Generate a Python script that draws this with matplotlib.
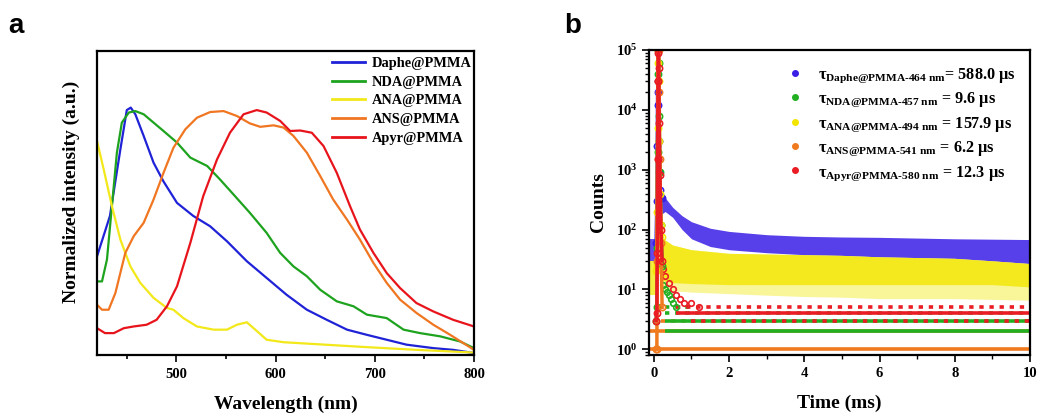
import numpy as np
import matplotlib.pyplot as plt

plt.rcParams['font.family'] = ['Liberation Serif', 'DejaVu Serif']
plt.rcParams['font.weight'] = 'bold'
plt.rcParams['mathtext.fontset'] = 'custom'
plt.rcParams['mathtext.rm'] = 'Liberation Serif:bold'
plt.rcParams['mathtext.it'] = 'Liberation Serif:bold'
plt.rcParams['mathtext.bf'] = 'Liberation Serif:bold'

# ---- panel a: normalized PL spectra ----
daphe_wl = [420, 433, 443.5, 450, 454, 458.6, 467, 477, 487, 500.6, 517, 534, 551, 571,
            591, 611, 631.5, 651.6, 672, 692, 712, 732, 759, 779, 800]
daphe_int = [0.396, 0.56, 0.83, 0.99, 1.0, 0.973, 0.885, 0.776, 0.70, 0.613, 0.56, 0.518,
             0.457, 0.376, 0.308, 0.24, 0.179, 0.138, 0.098, 0.077, 0.057, 0.037, 0.023, 0.016, 0.003]
nda_wl = [420, 425, 430, 435, 440, 445, 452, 458.6, 467, 477, 487, 500.6, 514, 531, 544,
          557.6, 574, 591, 604.6, 618, 631.5, 645, 661.7, 678.5, 692, 712, 729, 745.6, 765.8, 786, 800]
nda_int = [0.294, 0.294, 0.383, 0.60, 0.817, 0.939, 0.98, 0.986, 0.973, 0.939, 0.905, 0.858,
           0.797, 0.763, 0.708, 0.647, 0.573, 0.491, 0.41, 0.355, 0.315, 0.26, 0.213, 0.193,
           0.159, 0.145, 0.098, 0.084, 0.071, 0.05, 0.023]
ana_wl = [420, 426.7, 435, 443.5, 453.6, 463.6, 477, 490.5, 497, 507, 520.7, 537.5, 551,
          561, 571, 579.5, 591, 608, 641.6, 692, 742, 800]
ana_int = [0.864, 0.749, 0.60, 0.464, 0.355, 0.288, 0.227, 0.186, 0.179, 0.145, 0.111, 0.098,
           0.098, 0.118, 0.128, 0.098, 0.057, 0.047, 0.039, 0.027, 0.016, 0.005]
ans_wl = [420, 425, 431.7, 438.5, 448.5, 457, 467, 477, 487, 497, 509, 520.7, 534, 547.6,
          561, 574, 584.5, 598, 608, 618, 631.5, 645, 658, 672, 685, 698.6, 712, 725.5, 742,
          759, 776, 800]
ans_int = [0.199, 0.179, 0.179, 0.247, 0.41, 0.478, 0.532, 0.627, 0.735, 0.837, 0.912, 0.959,
           0.982, 0.986, 0.966, 0.936, 0.922, 0.928, 0.919, 0.885, 0.817, 0.722, 0.627, 0.545,
           0.464, 0.369, 0.288, 0.22, 0.166, 0.118, 0.077, 0.016]
apyr_wl = [420, 428, 437, 447, 457, 470, 480, 490.5, 500.6, 514, 527, 541, 554, 567.7, 581,
           591, 604.6, 614.7, 624.8, 636.5, 648.3, 661.7, 675, 685, 698.6, 712, 725.5, 742,
           759, 779, 800]
apyr_int = [0.104, 0.084, 0.084, 0.104, 0.111, 0.118, 0.138, 0.193, 0.274, 0.45, 0.64, 0.79,
            0.898, 0.973, 0.99, 0.98, 0.946, 0.905, 0.907, 0.898, 0.844, 0.735, 0.60, 0.505,
            0.41, 0.328, 0.267, 0.206, 0.172, 0.138, 0.111]

spec_names = ['Daphe@PMMA', 'NDA@PMMA', 'ANA@PMMA', 'ANS@PMMA', 'Apyr@PMMA']
spec_colors = ['#1f22d6', '#1ea31e', '#f2e81a', '#f07622', '#e8141c']

# ---- panel b: decay curves (counts vs time in ms) ----
spike_t = [0.06, 0.08, 0.09, 0.10, 0.11, 0.12, 0.13, 0.14, 0.16, 0.19, 0.22]
daphe_spike = [60, 300, 2500, 20000, 30000, 12000, 3000, 900, 450, 350, 340]
nda_spike = [3, 5, 50, 2000, 40000, 100000, 60000, 8000, 900, 120, 25]
ana_spike = [20, 25, 200, 5000, 60000, 100000, 30000, 3000, 400, 120, 75]
ans_spike = [1, 1, 30, 1500, 30000, 100000, 100000, 20000, 1500, 60, 5]
apyr_spike = [3, 4, 40, 1500, 30000, 90000, 50000, 6000, 800, 100, 30]

pre_t = [-0.12, 0.06]
daphe_pre_hi, daphe_pre_lo = [70, 70], [30, 30]
ana_pre_hi, ana_pre_lo = [30, 30], [8, 8]

daphe_t = [0.2, 0.3, 0.5, 0.75, 1.0, 1.5, 2, 3, 4, 5, 6, 7, 8, 9, 10]
daphe_hi = [350, 340, 235, 170, 135, 105, 93, 82, 77, 75, 74, 72, 70, 69, 68]
daphe_lo = [180, 200, 160, 100, 70, 52, 46, 41, 38, 37, 35, 34, 33, 30, 27]

ana_t = [0.17, 0.25, 0.5, 1, 2, 3, 4, 5, 6, 7, 8, 9, 10]
ana_hi = [75, 70, 55, 46, 40, 39, 38, 37, 35, 34, 33, 30, 27]
ana_mid = [14, 14, 13, 12.5, 12, 12, 12, 12, 12, 12, 12, 12, 11]
ana_lo = [10, 10, 9.5, 9, 8.5, 8, 7.6, 7.4, 7, 7, 7, 6.8, 6.6]

nda_tail_t = [0.25, 0.3, 0.35, 0.4, 0.45, 0.5, 0.6]
nda_tail = [12, 10, 9, 8, 7, 6, 5]
apyr_tail_t = [0.25, 0.3, 0.4, 0.5, 0.6, 0.7, 0.8, 1.0, 1.2]
apyr_tail = [22, 17, 13, 10, 8, 7, 6, 6, 5]

# count levels that form horizontal rows: (counts, t_start, t_end)
ans_rows = [(1, -0.1, 10), (2, -0.1, 10)]
ans_sparse = [(3, 0.2, 10)]
nda_rows = [(3, 0.3, 10), (2, 0.3, 10)]
nda_sparse = [(4, 0.3, 10), (5, 0.3, 1.0)]
apyr_rows = [(4, 0.6, 10)]
apyr_sparse = [(5, 0.6, 10), (3, 1.0, 10)]

tau_labels = [
    r'$\tau_{\mathrm{Daphe@PMMA}\text{-}\mathrm{464\ nm}}$= 588.0 μs',
    r'$\tau_{\mathrm{NDA@PMMA}\text{-}\mathrm{457\ nm}}$ = 9.6 μs',
    r'$\tau_{\mathrm{ANA@PMMA}\text{-}\mathrm{494\ nm}}$ = 157.9 μs',
    r'$\tau_{\mathrm{ANS@PMMA}\text{-}\mathrm{541\ nm}}$ = 6.2 μs',
    r'$\tau_{\mathrm{Apyr@PMMA}\text{-}\mathrm{580\ nm}}$ = 12.3 μs',
]
decay_colors = ['#3a1ee6', '#22b022', '#f2e600', '#f07a1e', '#ea1c24']

fig = plt.figure(figsize=(10.39, 4.16), dpi=100)
ax1 = fig.add_axes([0.0934, 0.1466, 0.3628, 0.7308])
ax2 = fig.add_axes([0.6246, 0.1466, 0.3667, 0.7332])

spectra = [(daphe_wl, daphe_int), (nda_wl, nda_int), (ana_wl, ana_int),
           (ans_wl, ans_int), (apyr_wl, apyr_int)]
for (wl, val), name, c in zip(spectra, spec_names, spec_colors):
    ax1.plot(wl, val, color=c, lw=1.6, label=name)

ax1.set_xlim(420, 800)
ax1.set_ylim(-0.005, 1.23)
ax1.set_xticks([500, 600, 700, 800])
ax1.set_xticks([450, 550, 650, 750], minor=True)
ax1.set_yticks([])
ax1.tick_params(axis='x', which='major', direction='out', length=5, width=1.2, labelsize=10.5, pad=4)
ax1.tick_params(axis='x', which='minor', direction='out', length=3, width=1.2)
ax1.set_xlabel('Wavelength (nm)', fontsize=14, fontweight='bold', labelpad=11)
ax1.set_ylabel('Normalized intensity (a.u.)', fontsize=14, fontweight='bold')
ax1.yaxis.set_label_coords(-0.045, 0.535)
leg1 = ax1.legend(loc='upper right', frameon=False, fontsize=10.4, handlelength=2.3,
                  handletextpad=0.5, labelspacing=0.39, borderaxespad=0.0,
                  bbox_to_anchor=(1.01, 1.0))
for ln in leg1.get_lines():
    ln.set_linewidth(2)

# bands
ax2.fill_between(pre_t, daphe_pre_lo, daphe_pre_hi, color=decay_colors[0], alpha=0.8, lw=0)
ax2.fill_between(daphe_t, daphe_lo, daphe_hi, color=decay_colors[0], alpha=0.85, lw=0)
ax2.fill_between(pre_t, ana_pre_lo, ana_pre_hi, color=decay_colors[2], alpha=0.75, lw=0)
ax2.fill_between(ana_t, ana_lo, ana_hi, color=decay_colors[2], alpha=0.4, lw=0)
ax2.fill_between(ana_t, ana_mid, ana_hi, color=decay_colors[2], alpha=0.8, lw=0)

def draw_rows(rows, color, dense):
    for level, t0, t1 in rows:
        if dense:
            ax2.hlines(level, t0, t1, color=color, lw=2.6)
        else:
            ax2.hlines(level, t0, t1, color=color, lw=2.6, linestyles=(0, (1.2, 1.6)))

draw_rows(ans_rows, decay_colors[3], True)
draw_rows(ans_sparse, decay_colors[3], False)
draw_rows(nda_rows, decay_colors[1], True)
draw_rows(nda_sparse, decay_colors[1], False)
draw_rows(apyr_rows, decay_colors[4], True)
draw_rows(apyr_sparse, decay_colors[4], False)

ax2.plot(nda_tail_t, nda_tail, 'o', color=decay_colors[1], ms=4, mfc='none', mew=1.2)
ax2.plot(apyr_tail_t, apyr_tail, 'o', color=decay_colors[4], ms=4, mfc='none', mew=1.2)

spikes = [daphe_spike, nda_spike, ana_spike, ans_spike, apyr_spike]
for sp, c in zip(spikes, decay_colors):
    ax2.plot(spike_t, sp, '-o', color=c, ms=4.5, mfc='none', mew=1.2, lw=2.5)

handles = [ax2.plot([], [], 'o', color=c, ms=4)[0] for c in decay_colors]
ax2.legend(handles, tau_labels, loc='upper right', frameon=False, fontsize=11.7,
           handlelength=0.6, handletextpad=1.1, labelspacing=0.36,
           bbox_to_anchor=(1.0, 0.995))

ax2.set_yscale('log')
ax2.set_ylim(0.8, 1e5)
ax2.set_xlim(-0.13, 10)
ax2.set_xticks([0, 2, 4, 6, 8, 10])
ax2.set_xticks([1, 3, 5, 7, 9], minor=True)
ax2.tick_params(axis='both', which='major', direction='out', length=5, width=1.2, labelsize=10.5)
ax2.tick_params(axis='both', which='minor', direction='out', length=3, width=1.0)
ax2.set_xlabel('Time (ms)', fontsize=14, fontweight='bold', labelpad=11)
ax2.set_ylabel('Counts', fontsize=14, fontweight='bold', labelpad=6)

for ax in (ax1, ax2):
    for s in ax.spines.values():
        s.set_linewidth(1.6)

fig.text(0.008, 0.92, 'a', fontsize=20, fontweight='bold', family='Liberation Sans')
fig.text(0.543, 0.92, 'b', fontsize=20, fontweight='bold', family='Liberation Sans')

fig.savefig('out.png', dpi=100)
